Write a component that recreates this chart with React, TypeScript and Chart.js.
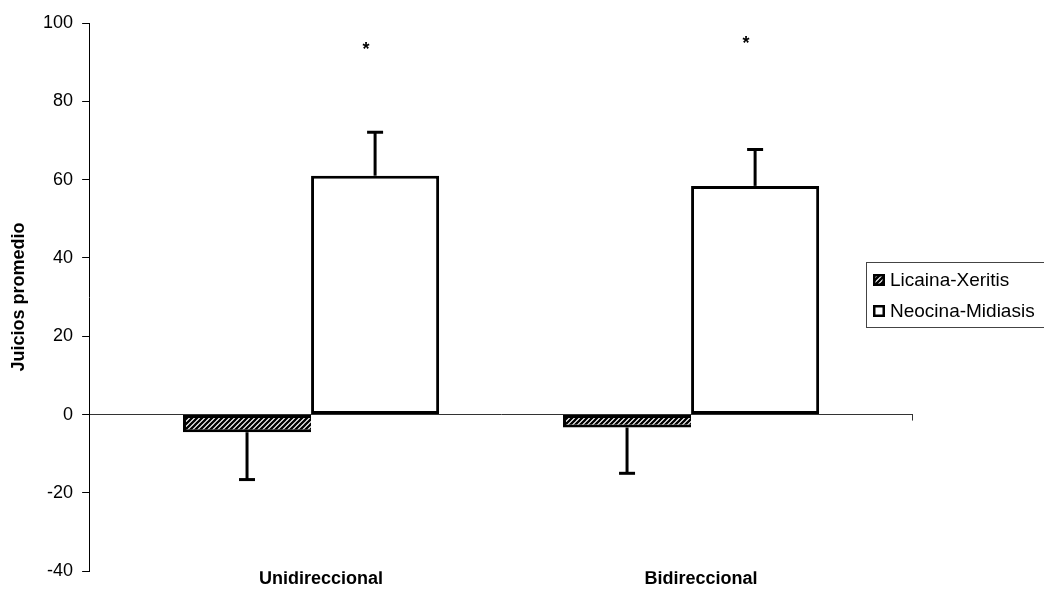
import React, { useEffect, useRef } from 'react';
import { Chart, registerables } from 'chart.js';

Chart.register(...registerables);

const categories = ['Unidireccional', 'Bidireccional'];
const seriesLabels = ['Licaina-Xeritis', 'Neocina-Midiasis'];
const licainaValues = [-4.5, -3.3];
const licainaErrors = [12.1, 11.7];
const neocinaValues = [61.0, 58.4];
const neocinaErrors = [11.1, 9.3];
const significanceMarks = ['*', '*'];
const significanceLevels = [94.3, 96.0];
const yTickValues = [-40, -20, 0, 20, 40, 60, 80, 100];
const yAxisTitle = 'Juicios promedio';

const FONT = "'Liberation Sans', Arial, Helvetica, sans-serif";
// extra empty space (in category units) kept at both ends of the category axis
const CATEGORY_INSET = 0.084;

function makeHatch(ctx: CanvasRenderingContext2D): CanvasPattern | string {
  const s = 5;
  const c = document.createElement('canvas');
  c.width = s;
  c.height = s;
  const g = c.getContext('2d')!;
  g.fillStyle = '#fff';
  g.fillRect(0, 0, s, s);
  g.strokeStyle = '#000';
  g.lineWidth = 2.3;
  g.beginPath();
  g.moveTo(-1, s + 1);
  g.lineTo(s + 1, -1);
  g.moveTo(-1, 1);
  g.lineTo(1, -1);
  g.moveTo(s - 1, s + 1);
  g.lineTo(s + 1, s - 1);
  g.stroke();
  return ctx.createPattern(c, 'repeat') || '#666';
}

const overlayPlugin = {
  id: 'overlay',
  afterDatasetsDraw(chart: any) {
    const ctx: CanvasRenderingContext2D = chart.ctx;
    const yScale = chart.scales.y;
    const area = chart.chartArea;
    ctx.save();
    // error bars
    ctx.strokeStyle = '#000';
    ctx.lineWidth = 3;
    chart.data.datasets.forEach((ds: any, di: number) => {
      const meta = chart.getDatasetMeta(di);
      meta.data.forEach((bar: any, i: number) => {
        const v = ds.data[i];
        const e = ds.errors[i];
        const end = v >= 0 ? v + e : v - e;
        const x = bar.x;
        const y0 = bar.y;
        const y1 = yScale.getPixelForValue(end);
        ctx.beginPath();
        ctx.moveTo(x, y0);
        ctx.lineTo(x, y1);
        ctx.stroke();
        ctx.beginPath();
        ctx.moveTo(x - 8, y1);
        ctx.lineTo(x + 8, y1);
        ctx.stroke();
      });
    });
    // significance marks above second series
    const meta2 = chart.getDatasetMeta(1);
    ctx.fillStyle = '#000';
    ctx.font = `bold 18px ${FONT}`;
    ctx.textAlign = 'center';
    ctx.textBaseline = 'alphabetic';
    meta2.data.forEach((bar: any, i: number) => {
      const y = yScale.getPixelForValue(significanceLevels[i]);
      ctx.fillText(significanceMarks[i], bar.x - 9, y + 10);
    });
    // end tick of category axis
    const y0 = yScale.getPixelForValue(0);
    ctx.strokeStyle = '#333';
    ctx.lineWidth = 1;
    ctx.beginPath();
    ctx.moveTo(Math.round(area.right) - 0.5, y0);
    ctx.lineTo(Math.round(area.right) - 0.5, y0 + 6);
    ctx.stroke();
    ctx.restore();
  },
  afterDraw(chart: any) {
    const ctx: CanvasRenderingContext2D = chart.ctx;
    ctx.save();
    const left = 866.5;
    const top = 262.5;
    const bottom = 327.5;
    ctx.strokeStyle = '#444';
    ctx.lineWidth = 1;
    ctx.strokeRect(left, top, 1100 - left, bottom - top);
    const rows = [280, 311];
    ctx.font = `19px ${FONT}`;
    ctx.textAlign = 'left';
    ctx.textBaseline = 'middle';
    chart.data.datasets.forEach((ds: any, di: number) => {
      const cy = rows[di];
      const sx = 873;
      const sy = cy - 6;
      ctx.fillStyle = '#000';
      ctx.fillRect(sx, sy, 12, 12);
      ctx.fillStyle = ds.backgroundColor;
      ctx.fillRect(sx + 2.5, sy + 2.5, 7, 7);
      ctx.fillStyle = '#000';
      ctx.fillText(ds.label, 890, cy + 1);
    });
    ctx.restore();
  },
};

export default function App() {
  const canvasRef = useRef<HTMLCanvasElement | null>(null);

  useEffect(() => {
    const canvas = canvasRef.current;
    if (!canvas) return;
    const ctx = canvas.getContext('2d')!;
    const hatch = makeHatch(ctx);

    const chart = new Chart(ctx, {
      type: 'bar',
      data: {
        labels: categories,
        datasets: [
          {
            label: seriesLabels[0],
            data: licainaValues,
            errors: licainaErrors,
            backgroundColor: hatch,
            borderColor: '#000',
            borderWidth: 3,
            borderSkipped: 'right',
            categoryPercentage: 0.674,
            barPercentage: 1.0,
          } as any,
          {
            label: seriesLabels[1],
            data: neocinaValues,
            errors: neocinaErrors,
            backgroundColor: '#ffffff',
            borderColor: '#000',
            borderWidth: 3,
            borderSkipped: false,
            categoryPercentage: 0.674,
            barPercentage: 1.0,
          } as any,
        ],
      },
      options: {
        responsive: false,
        animation: false,
        events: [],
        layout: { padding: { left: 4, right: 131, top: 23, bottom: 0 } },
        plugins: {
          legend: { display: false },
          tooltip: { enabled: false },
        },
        scales: {
          x: {
            type: 'category',
            afterBuildTicks: (scale: any) => {
              scale._startValue = scale.min - 0.5 - CATEGORY_INSET;
              scale._valueRange = scale.max - scale.min + 1 + 2 * CATEGORY_INSET;
            },
            grid: { display: false, drawTicks: false },
            border: { display: false },
            ticks: {
              color: '#000',
              font: { family: FONT, size: 18, weight: 'bold', lineHeight: 0.9 },
              padding: 0,
              labelOffset: 10,
              maxRotation: 0,
              autoSkip: false,
            },
          },
          y: {
            min: -40,
            max: 100,
            afterBuildTicks: (scale: any) => {
              scale.ticks = yTickValues.map((v) => ({ value: v }));
            },
            grid: {
              color: (c: any) => (c.tick && c.tick.value === 0 ? '#333' : 'rgba(0,0,0,0)'),
              lineWidth: 1,
              drawTicks: true,
              tickLength: 7,
              tickColor: '#000',
            },
            border: { display: true, color: '#000', width: 1 },
            ticks: {
              color: '#000',
              font: { family: FONT, size: 18 },
              padding: 9,
            },
            title: {
              display: true,
              text: yAxisTitle,
              color: '#000',
              font: { family: FONT, size: 18, weight: 'bold' },
              padding: { top: 4, bottom: 4.5 },
            },
          },
        },
      },
      plugins: [overlayPlugin],
    } as any);

    return () => chart.destroy();
  }, []);

  return (
    <div style={{ position: 'absolute', left: 0, top: 0, width: 1044, height: 591, background: '#fff' }}>
      <canvas ref={canvasRef} width={1044} height={591} style={{ display: 'block' }} />
    </div>
  );
}
